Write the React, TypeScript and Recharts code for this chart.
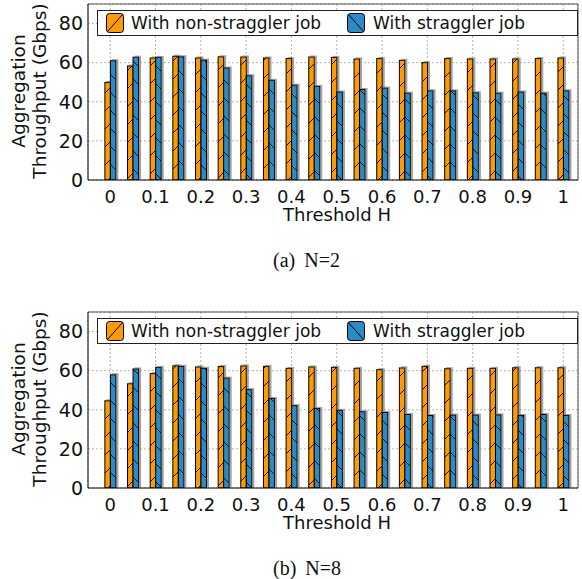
import React from 'react';
import { BarChart, Bar, XAxis, YAxis, CartesianGrid, ReferenceLine, Label } from 'recharts';

// ---- data ----
const thresholds = [0, 0.05, 0.1, 0.15, 0.2, 0.25, 0.3, 0.35, 0.4, 0.45, 0.5, 0.55, 0.6, 0.65, 0.7, 0.75, 0.8, 0.85, 0.9, 0.95, 1];
const xTicks = [0, 0.1, 0.2, 0.3, 0.4, 0.5, 0.6, 0.7, 0.8, 0.9, 1];
const xTickLabels = ['0', '0.1', '0.2', '0.3', '0.4', '0.5', '0.6', '0.7', '0.8', '0.9', '1'];
const yTicks = [0, 20, 40, 60, 80];

const n2NonStraggler = [49.9, 58.3, 62.4, 63.3, 62.4, 63.0, 62.9, 62.4, 62.1, 62.9, 62.7, 61.9, 62.1, 61.2, 60.0, 62.1, 61.9, 61.9, 61.9, 62.1, 62.4];
const n2Straggler = [61.0, 62.8, 62.7, 63.0, 61.3, 57.3, 53.3, 51.0, 48.5, 47.9, 45.0, 46.3, 47.0, 44.4, 45.6, 45.6, 44.6, 44.4, 45.0, 44.4, 45.6];
const n8NonStraggler = [44.6, 53.3, 58.5, 62.5, 61.9, 62.1, 62.4, 62.2, 61.2, 61.9, 61.7, 61.2, 60.5, 61.4, 62.2, 61.0, 61.2, 61.2, 61.5, 61.5, 61.5];
const n8Straggler = [57.9, 60.9, 61.7, 62.2, 61.2, 56.2, 50.3, 45.8, 42.1, 40.7, 39.7, 39.0, 38.6, 37.6, 37.1, 37.3, 37.3, 37.4, 37.1, 37.6, 37.1];

const seriesNames = ['With non-straggler job', 'With straggler job'];
const captionTags = ['(a)', '(b)'];
const captionTexts = ['N=2', 'N=8'];
const xTitle = 'Threshold H';
const yTitleLines = ['Aggregation', 'Throughput (Gbps)'];

const ORANGE = '#ff9a00';
const BLUE = '#2a8bc6';
const FONT = '"DejaVu Sans", sans-serif';
const X_DOMAIN = [-0.049, 1.0325];

const buildData = (a: number[], b: number[]) =>
  thresholds.map((h, i) => ({ h, a: a[i], b: b[i] }));

const Defs = () => (
  <svg width={0} height={0} style={{ position: 'absolute' }}>
    <defs>
      <pattern id="hatchOrange" patternUnits="userSpaceOnUse" width={18} height={18}>
        <rect x={0} y={0} width={18} height={18} fill={ORANGE} />
        <path d="M0,18 L18,0 M-3,3 L3,-3 M15,21 L21,15" stroke="#000" strokeWidth={0.9} />
      </pattern>
      <pattern id="hatchBlue" patternUnits="userSpaceOnUse" width={18} height={18}>
        <rect x={0} y={0} width={18} height={18} fill={BLUE} />
        <path d="M0,0 L18,18 M-3,15 L3,21 M15,-3 L21,3" stroke="#000" strokeWidth={0.9} />
      </pattern>
      <filter id="barShadow" x="-100%" y="-20%" width="300%" height="140%">
        <feOffset in="SourceAlpha" dx={1.5} dy={-1.5} result="off" />
        <feFlood floodColor="#8a8a8a" floodOpacity={0.8} />
        <feComposite in2="off" operator="in" result="sh" />
        <feMerge>
          <feMergeNode in="sh" />
          <feMergeNode in="SourceGraphic" />
        </feMerge>
      </filter>
    </defs>
  </svg>
);

const makeShape = (fillId: string) => (props: any) => {
  const { x, y, width, height } = props;
  if (!height || height <= 0) return <g />;
  return (
    <rect x={x} y={y} width={width} height={height} fill={`url(#${fillId})`} stroke="#000" strokeWidth={1} filter="url(#barShadow)" />
  );
};
const orangeShape = makeShape('hatchOrange');
const blueShape = makeShape('hatchBlue');

const YTitle = (props: any) => {
  const vb = props.viewBox || { x: 0, y: 4, width: 88, height: 176 };
  const cy = vb.y + vb.height / 2 - 1;
  const x1 = 24.5;
  const x2 = 45.5;
  return (
    <g>
      <text x={x1} y={cy} transform={`rotate(-90 ${x1} ${cy})`} textAnchor="middle" fontFamily={FONT} fontSize={18.5} fill="#111">
        {yTitleLines[0]}
      </text>
      <text x={x2} y={cy} transform={`rotate(-90 ${x2} ${cy})`} textAnchor="middle" fontFamily={FONT} fontSize={18.5} fill="#111">
        {yTitleLines[1]}
      </text>
    </g>
  );
};

const XTitle = (props: any) => {
  const vb = props.viewBox || { x: 88, y: 180, width: 490, height: 30 };
  return (
    <text x={vb.x + vb.width / 2 + 4} y={vb.y + 41} textAnchor="middle" fontFamily={FONT} fontSize={18} fill="#111">
      {xTitle}
    </text>
  );
};

const Swatch = ({ fill, dir }: { fill: string; dir: 'up' | 'down' }) => (
  <svg width={19} height={21} style={{ position: 'absolute', left: 0, top: 0 }}>
    <rect x={0.5} y={0.5} width={17} height={19} rx={3} ry={3} fill={fill} stroke="#000" strokeWidth={1} />
    {dir === 'up' ? (
      <line x1={1.5} y1={18.5} x2={16.5} y2={1.5} stroke="#000" strokeWidth={1} />
    ) : (
      <line x1={1.5} y1={1.5} x2={16.5} y2={18.5} stroke="#000" strokeWidth={1} />
    )}
  </svg>
);

const LegendBox = () => (
  <div
    style={{
      position: 'absolute',
      left: 97,
      top: 10,
      width: 481,
      height: 26,
      boxSizing: 'border-box',
      border: '1px solid #222',
      background: '#fff',
      fontFamily: FONT,
      fontSize: 17,
      color: '#111',
    }}
  >
    <div style={{ position: 'absolute', left: 8, top: 2, width: 19, height: 21 }}>
      <Swatch fill={ORANGE} dir="up" />
    </div>
    <div style={{ position: 'absolute', left: 33, top: 0, lineHeight: '24px', whiteSpace: 'pre' }}>{seriesNames[0]}</div>
    <div style={{ position: 'absolute', left: 249, top: 2, width: 19, height: 21 }}>
      <Swatch fill={BLUE} dir="down" />
    </div>
    <div style={{ position: 'absolute', left: 275, top: 0, lineHeight: '24px', whiteSpace: 'pre' }}>{seriesNames[1]}</div>
  </div>
);

const Panel = ({ top, nonStraggler, straggler, idx }: { top: number; nonStraggler: number[]; straggler: number[]; idx: number }) => {
  const data = buildData(nonStraggler, straggler);
  return (
    <div style={{ position: 'absolute', left: 0, top, width: 582, height: 280 }}>
      <BarChart width={582} height={250} data={data} margin={{ top: 4, right: 4, bottom: 40, left: 0 }} barGap={0}>
        <CartesianGrid stroke="#b5b5b5" strokeDasharray="2 2" />
        <XAxis
          dataKey="h"
          type="number"
          domain={X_DOMAIN}
          allowDataOverflow
          ticks={xTicks}
          tickFormatter={(v: number) => xTickLabels[xTicks.indexOf(v)] ?? String(v)}
          height={30}
          tickSize={0}
          tickMargin={10}
          tickLine={false}
          axisLine={{ stroke: '#000', strokeWidth: 1 }}
          tick={{ fontFamily: FONT, fontSize: 18, fill: '#111' }}
          interval={0}
        >
          <Label content={<XTitle />} />
        </XAxis>
        <YAxis
          type="number"
          domain={[0, 90]}
          allowDataOverflow
          ticks={yTicks}
          width={88}
          tickSize={0}
          tickMargin={5}
          tickLine={false}
          axisLine={{ stroke: '#000', strokeWidth: 1 }}
          tick={{ fontFamily: FONT, fontSize: 19, fill: '#111' }}
          interval={0}
        >
          <Label content={<YTitle />} />
        </YAxis>
        <ReferenceLine y={90} stroke="#555" strokeWidth={1} />
        <ReferenceLine x={X_DOMAIN[1]} stroke="#555" strokeWidth={1} />
        <Bar dataKey="a" name={seriesNames[0]} barSize={5.5} shape={orangeShape} isAnimationActive={false} />
        <Bar dataKey="b" name={seriesNames[1]} barSize={5.5} shape={blueShape} isAnimationActive={false} />
      </BarChart>
      <LegendBox />
      <div
        style={{
          position: 'absolute',
          left: 273,
          top: 250,
          fontFamily: '"Liberation Serif", serif',
          fontSize: 20,
          lineHeight: '20px',
          whiteSpace: 'pre',
          color: '#111',
        }}
      >
        {captionTags[idx]}
        <span style={{ marginLeft: 9 }}>{captionTexts[idx]}</span>
      </div>
    </div>
  );
};

export default function App() {
  return (
    <div style={{ position: 'absolute', left: 0, top: 0, width: 582, height: 579, background: '#fff', overflow: 'hidden' }}>
      <Defs />
      <Panel top={0} nonStraggler={n2NonStraggler} straggler={n2Straggler} idx={0} />
      <Panel top={308} nonStraggler={n8NonStraggler} straggler={n8Straggler} idx={1} />
    </div>
  );
}
